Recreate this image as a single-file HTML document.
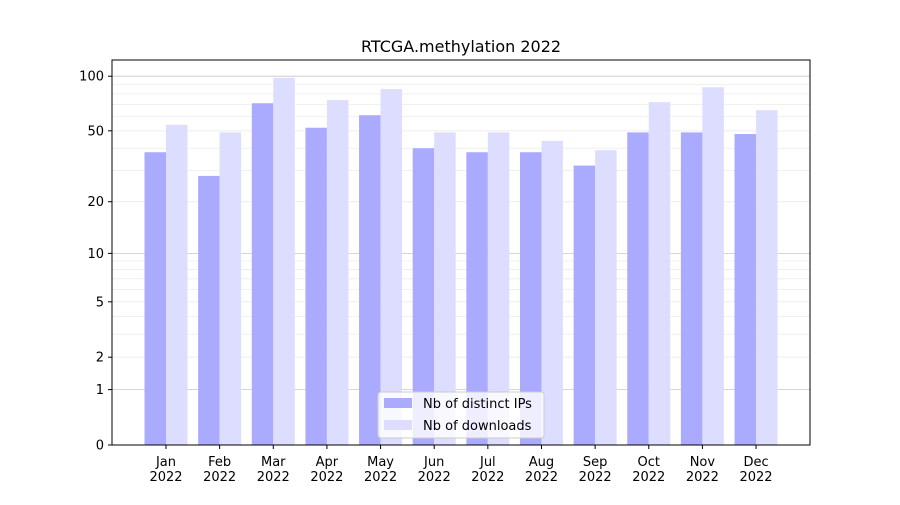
<!DOCTYPE html>
<html><head><meta charset="utf-8"><style>
body{margin:0;background:#fff;font-family:"Liberation Sans","DejaVu Sans",sans-serif;}
svg text{font-family:"DejaVu Sans","Liberation Sans",sans-serif;}
</style></head><body>
<svg id="chart" width="900" height="500" xmlns="http://www.w3.org/2000/svg">
<rect width="900" height="500" fill="#fff"/>
<text x="461" y="52" font-size="16" text-anchor="middle">RTCGA.methylation 2022</text>
<g id="grid"></g><g id="bars"></g><g id="axes"></g>
</svg>
<script>
const months=["Jan","Feb","Mar","Apr","May","Jun","Jul","Aug","Sep","Oct","Nov","Dec"];
const ips=[38,28,71,52,61,40,38,38,32,49,49,48];
const downloads=[54,49,98,74,85,49,49,44,39,72,87,65];
const yTicks=[0,1,2,5,10,20,50,100];
const minorTicks=[2,3,4,5,6,7,8,9,20,30,40,50,60,70,80,90];
const NS="http://www.w3.org/2000/svg";
const L=112,R=810,T=60,B=445;
function y(v){return B-184*Math.log10(1+v);}
function xc(i){return 166+i*53.64;}
const bw=21.5;
function mk(tag,attrs,parent){const e=document.createElementNS(NS,tag);for(const k in attrs)e.setAttribute(k,attrs[k]);parent.appendChild(e);return e;}
const grid=document.getElementById('grid'),bars=document.getElementById('bars'),axes=document.getElementById('axes');
minorTicks.forEach(v=>{const l=mk('line',{x1:L,x2:R,y1:y(v),y2:y(v),stroke:'#ececec','stroke-width':0.8},grid);

});
[1,10,100].forEach(v=>{const l=mk('line',{x1:L,x2:R,y1:y(v),y2:y(v),stroke:'#c8c8c8','stroke-width':0.8},grid);

});
months.forEach((m,i)=>{
const c=xc(i);
const b1=mk('rect',{x:c-bw,y:y(ips[i]),width:bw,height:B-y(ips[i]),fill:'#aaaaff'},bars);


const b2=mk('rect',{x:c,y:y(downloads[i]),width:bw,height:B-y(downloads[i]),fill:'#ddddff'},bars);


mk('line',{x1:c,x2:c,y1:B,y2:B+4,stroke:'#000'},axes);
const t=mk('text',{x:c,y:B+21,'font-size':13,'text-anchor':'middle'},axes);


t.innerHTML='<tspan x="'+c+'">'+m+'</tspan><tspan x="'+c+'" dy="15">2022</tspan>';
});
yTicks.forEach(v=>{
mk('line',{x1:L-4,x2:L,y1:y(v),y2:y(v),stroke:'#000'},axes);
const t=mk('text',{x:L-8,y:y(v)+4.5,'font-size':13,'text-anchor':'end'},axes);


t.textContent=v;
});
const frame=mk('rect',{x:L,y:T,width:R-L,height:B-T,fill:'none',stroke:'#000','stroke-width':1},axes);


const lg=mk('g',{},axes);


mk('rect',{x:378,y:392,width:166,height:46,rx:3,fill:'#fff','fill-opacity':0.8,stroke:'#ccc'},lg);
mk('rect',{x:384,y:398,width:28,height:10,fill:'#aaaaff'},lg);
mk('rect',{x:384,y:420,width:28,height:10,fill:'#ddddff'},lg);
const t1=mk('text',{x:423,y:408,'font-size':13},lg);t1.textContent='Nb of distinct IPs';


const t2=mk('text',{x:423,y:430,'font-size':13},lg);t2.textContent='Nb of downloads';


</script>
</body></html>
